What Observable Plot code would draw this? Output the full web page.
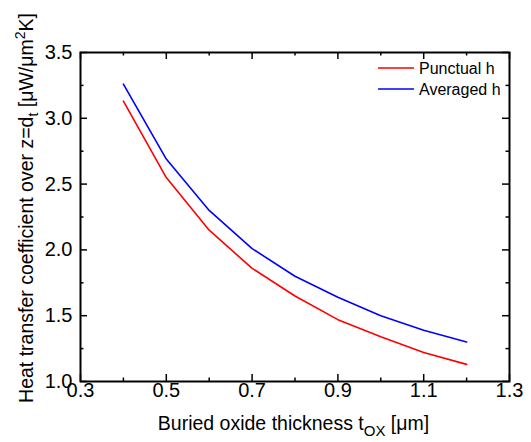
<!DOCTYPE html>
<html>
<head>
<meta charset="utf-8">
<script src="https://cdn.jsdelivr.net/npm/d3@7"></script>
<script src="https://cdn.jsdelivr.net/npm/@observablehq/plot@0.6"></script>
<style>
  html, body { margin: 0; padding: 0; background: #fff; }
  svg { display: block; }
</style>
</head>
<body>
<div id="chart"></div>
<script>
// Data
const thickness = [0.4, 0.5, 0.6, 0.7, 0.8, 0.9, 1.0, 1.1, 1.2];
const punctual  = [3.13, 2.55, 2.15, 1.86, 1.65, 1.47, 1.34, 1.22, 1.13];
const averaged  = [3.26, 2.69, 2.30, 2.01, 1.80, 1.64, 1.50, 1.39, 1.30];
const seriesNames = ["Punctual h", "Averaged h"];
const seriesColors = ["#ff0000", "#0000ff"];
const xMajor = [0.3, 0.5, 0.7, 0.9, 1.1, 1.3];
const xMinor = [0.4, 0.6, 0.8, 1.0, 1.2];
const yMajor = [1.0, 1.5, 2.0, 2.5, 3.0, 3.5];
const yMinor = [1.25, 1.75, 2.25, 2.75, 3.25];
const xDomain = [0.3, 1.3];
const yDomain = [1.0, 3.5];

const rows = [];
thickness.forEach((t, i) => rows.push({t, h: punctual[i], s: seriesNames[0]}));
thickness.forEach((t, i) => rows.push({t, h: averaged[i], s: seriesNames[1]}));

const W = 531, H = 442;
const mL = 80, mR = 22, mT = 52, mB = 61;
const plotW = W - mL - mR, plotH = H - mT - mB;
const font = "'Liberation Sans', Arial, Helvetica, sans-serif";

// Inward ticks on all four sides
function ticks(data, axis, len) {
  const o = {stroke: "#000", strokeWidth: 1.5};
  if (axis === "bottom") return Plot.ruleX(data, {...o, x: d => d, insetTop: plotH - len});
  if (axis === "top") return Plot.ruleX(data, {...o, x: d => d, insetBottom: plotH - len});
  if (axis === "left") return Plot.ruleY(data, {...o, y: d => d, insetRight: plotW - len});
  return Plot.ruleY(data, {...o, y: d => d, insetLeft: plotW - len});
}

const chart = Plot.plot({
  width: W, height: H,
  marginLeft: mL, marginRight: mR, marginTop: mT, marginBottom: mB,
  style: {fontFamily: font, background: "#fff"},
  x: {domain: xDomain},
  y: {domain: yDomain},
  color: {domain: seriesNames, range: seriesColors},
  marks: [
    Plot.line(rows, {x: "t", y: "h", stroke: "s", z: "s", strokeWidth: 1.6}),
    Plot.axisX(xMajor, {tickSize: 0, tickPadding: 1, fontSize: 20, label: null, tickFormat: d3.format(".1f"), fill: "#000"}),
    Plot.axisY(yMajor, {tickSize: 0, tickPadding: 8, fontSize: 20, label: null, tickFormat: d3.format(".1f"), fill: "#000"}),
    ticks(xMajor, "bottom", 7), ticks(xMinor, "bottom", 3.5),
    ticks(xMajor, "top", 7), ticks(xMinor, "top", 3.5),
    ticks(yMajor, "left", 7), ticks(yMinor, "left", 3.5),
    ticks(yMajor, "right", 7), ticks(yMinor, "right", 3.5),
    Plot.frame({stroke: "#000", strokeWidth: 2})
  ]
});

const svg = d3.select(chart);

// Axis titles with subscripts/superscripts
const xt = svg.append("text")
  .attr("x", (mL + W - mR) / 2 - 1).attr("y", 430)
  .attr("text-anchor", "middle")
  .attr("font-family", font).attr("font-size", 19.5).attr("fill", "#000");
xt.append("tspan").text("Buried oxide thickness t");
xt.append("tspan").attr("font-size", 15).attr("dy", 6).text("OX");
xt.append("tspan").attr("dy", -6).text(" [\u03bcm]");

const yt = svg.append("text")
  .attr("transform", `translate(33, 208) rotate(-90)`)
  .attr("text-anchor", "middle")
  .attr("font-family", font).attr("font-size", 19.5).attr("fill", "#000");
yt.append("tspan").text("Heat transfer coefficient over z=d");
yt.append("tspan").attr("font-size", 14).attr("dy", 5).text("t");
yt.append("tspan").attr("dy", -5).text(" [\u03bcW/\u03bcm");
yt.append("tspan").attr("font-size", 14).attr("dy", -8).text("2");
yt.append("tspan").attr("dy", 8).text("K]");

// Legend
const lg = svg.append("g");
seriesNames.forEach((name, i) => {
  const y = 68 + i * 21;
  lg.append("line").attr("x1", 378).attr("x2", 414).attr("y1", y).attr("y2", y)
    .attr("stroke", seriesColors[i]).attr("stroke-width", 1.6);
  lg.append("text").attr("x", 419).attr("y", y + 6)
    .attr("text-anchor", "start")
    .attr("font-family", font).attr("font-size", 16).attr("fill", "#000").text(name);
});

document.getElementById("chart").appendChild(chart);
</script>
</body>
</html>
